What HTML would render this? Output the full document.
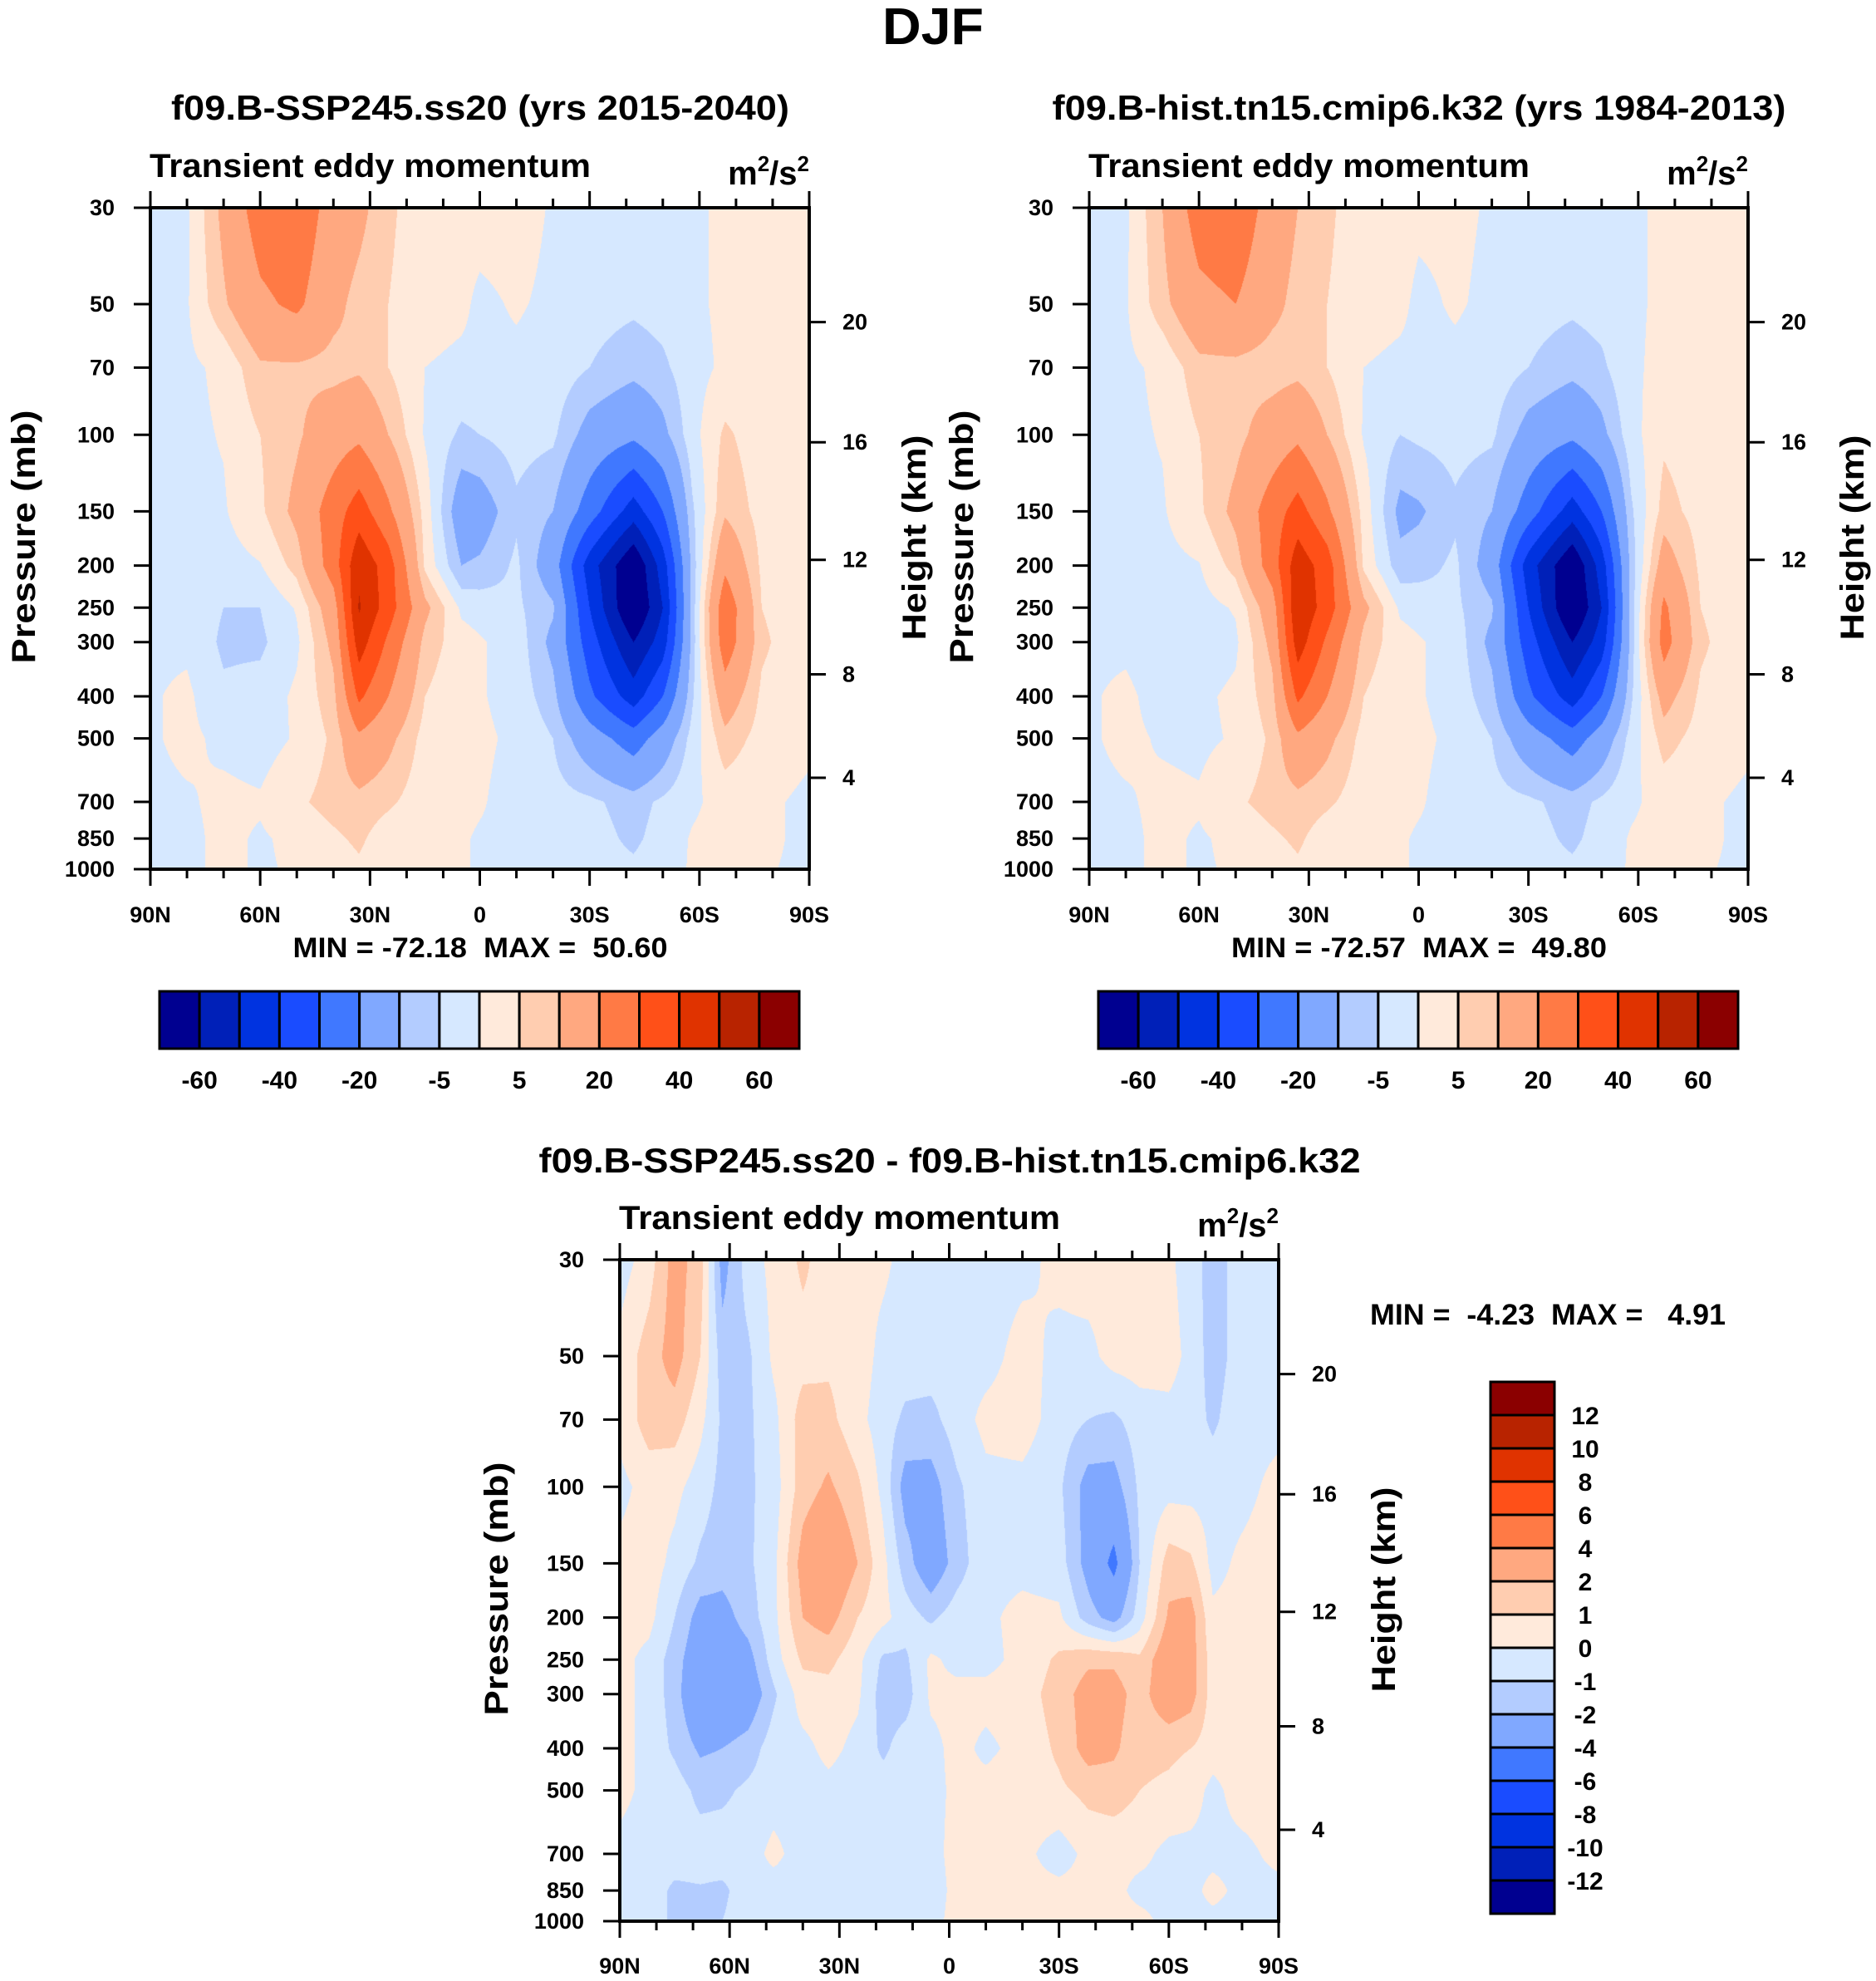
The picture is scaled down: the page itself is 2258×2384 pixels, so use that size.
<!DOCTYPE html>
<html><head><meta charset="utf-8"><style>
html,body{margin:0;padding:0;background:#fff;}
#wrap{position:relative;width:2258px;height:2384px;overflow:hidden;background:#fff;}
canvas{position:absolute;}
svg{position:absolute;left:0;top:0;}
text{font-family:"Liberation Sans",sans-serif;font-weight:bold;fill:#000;}
</style></head><body>
<div id="wrap">
<canvas id="c1"></canvas>
<canvas id="c2"></canvas>
<canvas id="c3"></canvas>
<svg id="svg" width="2258" height="2384"></svg>
</div>
<script>
// ---------- data ----------
const pLevels=[30,50,70,100,150,200,250,300,400,500,700,850,1000];
const absLats=[90,80,70,60,50,40,33,25,15,5,0,-10,-20,-30,-42,-50,-58,-67,-77,-90];
const sspVals=[
[-2,-1,12,25,28,15,12,6,2,2,2,2,-0.5,-2,-2,-2,-1,1,2,2],
[-1,-0.5,9,18,22,12,8,5,2,1,-1,0.5,-1,-3,-4,-3,-1,1,2,2],
[-1,-1,1,9,9,8,9,5,0,-1,-1,-1,-2,-5,-8,-6,-2,1,1.5,1.5],
[-1,-1,0.3,5,9,15,18,10,-0.5,-6,-5,-3,-4,-13,-18,-12,-2,6,2,1],
[-1,-1,-0.5,4,12,25,35,22,3,-15,-14,-6,-10,-25,-45,-30,-6,9,3,1],
[-2,-1,-2,-0.3,7,25,48,35,4,-10,-9,-4,-15,-45,-70,-45,-8,18,4,1],
[-1,-1.5,-5,-5,0.5,15,51,35,12,-1,-2,-4,-9,-40,-72,-50,-8,27,5,1],
[-1,-1,-6,-6,-1,12,45,28,8,2,0.5,-2,-12,-35,-60,-45,-8,26,6,1],
[-0.5,1,-4,-3,1,8,32,20,5,1,0.5,-2,-8,-28,-45,-30,-6,15,4,1],
[-0.5,1,-1,-2,0.5,6,18,12,3,1,1,-1,-5,-15,-25,-15,-3,8,3,1],
[-1,-0.5,1,0.5,4,7,8,6,2,1,0.5,-2,-3,-4,-7,-4,-1,2,1,-1],
[-1,-1,1,-0.5,1,4,6,2,1,0.5,-0.5,-1,-2,-3,-6,-3,0.5,2,1,-1],
[-1,-1,1,-0.5,0.5,2,4,1,0.5,0.5,-0.5,-1,-1,-3,-4,-2,0.5,1,0.5,-1]];
const histVals=[
[-2,-1,10,25,28,15,10,6,2,2,1,1,-0.5,-2,-2,-2,-1,1,2,2],
[-1,-0.5,8,17,20,12,8,5,2,1,-1,0.5,-1,-3,-4,-3,-1,1,2,2],
[-1,-1,1,8,8,7,8,5,0,-1,-1,-1,-2,-5,-8,-6,-1,1.5,1.5,1.5],
[-1,-1,0.3,5,8,14,18,10,-0.5,-5,-4,-3,-4,-13,-18,-12,-2,4,2,1],
[-1,-1,-0.5,4,12,25,34,22,3,-12,-11,-6,-10,-25,-45,-30,-6,7,3,1],
[-2,-1,-1.5,-0.3,7,25,46,35,4,-8,-7,-4,-14,-45,-70,-45,-8,14,4,1],
[-1,-1.5,-2,-2,0.5,15,49,35,12,-1,-2,-4,-9,-40,-72,-50,-8,22,5,1],
[-1,-1,-3,-3,-1,12,45,28,8,2,0.5,-2,-12,-35,-60,-45,-8,24,6,1],
[-0.5,1,-2,-1,1,8,32,20,5,1,0.5,-2,-8,-28,-45,-30,-6,13,4,1],
[-0.5,1,-0.5,-1,0.5,6,18,12,3,1,1,-1,-5,-15,-25,-15,-3,7,3,1],
[-1,-0.5,1,0.5,4,7,8,6,2,1,0.5,-2,-3,-4,-7,-4,-1,2,1,-1],
[-1,-1,1,-0.5,1,4,6,2,1,0.5,-0.5,-1,-2,-3,-6,-3,0.5,2,1,-1],
[-1,-1,1,-0.5,0.5,2,4,1,0.5,0.5,-0.5,-1,-1,-3,-4,-2,0.5,1,0.5,-1]];
const diffLats=[90,82,75,68,62,55,48,40,33,25,18,12,5,-2,-10,-20,-30,-38,-45,-52,-60,-66,-72,-80,-90];
const diffVals=[
[-0.5,0.5,2.5,1.5,-2.5,-0.5,0.3,1.2,0.5,0.3,0.2,-0.3,-0.5,-0.5,-0.5,-0.3,0.3,0.5,0.5,0.5,0.2,-0.5,-1.5,-0.5,-0.3],
[0.3,1.5,2.5,1,-1.5,-1.2,0.2,0.6,0.8,0.5,-0.3,-0.5,-0.5,-0.5,-0.4,0.4,-0.3,-0.3,0.4,0.5,0.4,-0.3,-1.5,-0.5,-0.3],
[0.3,1.5,1.5,0.3,-1.2,-1.2,-0.3,1.5,1.3,0.3,-0.5,-1.2,-1.3,-0.5,0.3,0.5,-0.5,-1,-1.2,-0.5,-0.3,-0.5,-1.2,-0.3,-0.3],
[-0.3,0.4,0.3,-0.5,-1.3,-1.2,-0.5,1.5,2.2,1.2,-0.3,-2.5,-2.5,-1.2,-0.3,-0.3,-0.8,-2.5,-2.5,-0.8,-0.4,-0.4,-0.4,-0.3,0.3],
[0.3,0.5,-0.3,-1.2,-1.5,-1.2,-0.3,2.5,3.5,2,0.3,-1.5,-3,-1.5,-0.3,-0.3,-0.5,-2.5,-4.5,-1,1.5,1.2,-0.3,0.2,0.5],
[0.5,0.3,-1,-2.5,-2.5,-1.5,-0.3,2,2.5,1,0.3,-0.5,-1.2,-0.5,-0.2,0.3,0.2,-1.5,-2.5,-0.5,2.2,2.5,0.2,0.3,0.5],
[0.3,-0.3,-1.5,-3,-3,-2.5,-0.5,1.2,1.3,0.3,-1.2,-1.2,0.2,-0.3,-0.3,0.3,1.2,1.8,1.8,1.2,3,2.5,0.5,0.5,0.5],
[0.3,-0.3,-1.5,-3.5,-3.5,-3,-1.2,0.5,0.6,0.2,-1.5,-1.5,0.2,0.3,0.3,0.5,1.5,2.5,2.5,1.5,3,2.5,0.5,0.5,0.5],
[0.3,-0.3,-1.2,-2.2,-2,-1.5,-0.5,-0.3,0.3,-0.3,-1.2,-0.5,-0.3,0.3,-0.2,0.3,1.2,2.5,2.2,1.3,1.2,1,0.5,0.5,0.5],
[0.3,-0.3,-0.5,-1.3,-1.2,-0.8,-0.5,-0.5,-0.3,-0.5,-0.5,-0.5,-0.3,0.2,0.3,0.5,0.8,1.3,1.5,1,0.8,0.5,-0.3,0.5,0.5],
[-0.3,-0.5,-0.5,-0.5,-0.5,-0.5,0.3,-0.5,-0.5,-0.5,-0.5,-0.5,-0.3,0.3,0.3,0.3,-0.5,0.3,0.3,0.3,-0.3,-0.3,-0.3,-0.3,0.3],
[-0.3,-0.5,-1.2,-1.1,-1.2,-0.5,-0.5,-0.5,-0.5,-0.5,-0.5,-0.5,-0.5,0.3,0.3,0.3,0.3,0.3,0.3,-0.3,-0.3,-0.3,0.3,-0.3,-0.3],
[-0.3,-0.5,-1.2,-1.2,-1,-0.5,-0.5,-0.3,-0.3,-0.5,-0.5,-0.3,-0.3,0.3,0.3,0.3,0.3,0.3,0.3,0.3,-0.3,-0.3,-0.3,-0.3,-0.3]];
const absLevels=[-60,-50,-40,-30,-20,-10,-5,0,5,10,20,30,40,50,60];
const absLabels=["-60","-40","-20","-5","5","20","40","60"];
const diffLevels=[-12,-10,-8,-6,-4,-2,-1,0,1,2,4,6,8,10,12];
const colors=['#000090','#0020b8','#0033e0','#1a4cff','#4078ff','#80a8ff','#b3ccff','#d6e8ff','#ffeadb','#ffcdb0','#ffa880','#ff7a45','#ff5018','#e03300','#b82300','#8b0000'];
const pTicks=[30,50,70,100,150,200,250,300,400,500,700,850,1000];
const hTicks=[4,8,12,16,20];
const hTickP=[616,356,194,104,55];
const latTicks=[90,60,30,0,-30,-60,-90];
const latTickLabels=["90N","60N","30N","0","30S","60S","90S"];

// ---------- helpers ----------
const NS='http://www.w3.org/2000/svg';
const svg=document.getElementById('svg');
function el(tag,attrs,parent){const e=document.createElementNS(NS,tag);for(const k in attrs)e.setAttribute(k,attrs[k]);(parent||svg).appendChild(e);return e;}
function txt(s,x,y,size,anchor,extra){const t=el('text',Object.assign({x:x,y:y,'font-size':size,'text-anchor':anchor||'start'},extra||{}));t.textContent=s;return t;}

function makeAxes(left,top,W,H){
  const lnTop=Math.log(30),lnR=Math.log(1000/30);
  return {x:lat=>left+(90-lat)/180*W, y:p=>top+(Math.log(p)-lnTop)/lnR*H};
}
function levelIndex(v,levels){let k=0;while(k<levels.length&&v>=levels[k])k++;return k;}
function hex(c){return [parseInt(c.substr(1,2),16),parseInt(c.substr(3,2),16),parseInt(c.substr(5,2),16)];}
const rgb=colors.map(hex);

function fillCanvas(id,left,top,W,H,lats,vals,levels){
  const cv=document.getElementById(id);
  cv.width=W;cv.height=H;cv.style.left=left+'px';cv.style.top=top+'px';
  const ctx=cv.getContext('2d');const img=ctx.createImageData(W,H);
  const lnP=pLevels.map(Math.log);const lnTop=Math.log(30),lnR=Math.log(1000/30);
  const colI=[],colF=[];
  for(let px=0;px<W;px++){const lat=90-(px+0.5)/W*180;let i=0;while(i<lats.length-2&&lat<lats[i+1])i++;colI.push(i);colF.push((lats[i]-lat)/(lats[i]-lats[i+1]));}
  for(let py=0;py<H;py++){
    const lp=lnTop+(py+0.5)/H*lnR;let j=0;while(j<lnP.length-2&&lp>lnP[j+1])j++;
    const fy=(lp-lnP[j])/(lnP[j+1]-lnP[j]);
    const r0=vals[j],r1=vals[j+1];
    for(let px=0;px<W;px++){
      const i=colI[px],fx=colF[px];
      const v=(r0[i]*(1-fx)+r0[i+1]*fx)*(1-fy)+(r1[i]*(1-fx)+r1[i+1]*fx)*fy;
      const c=rgb[levelIndex(v,levels)];const o=(py*W+px)*4;
      img.data[o]=c[0];img.data[o+1]=c[1];img.data[o+2]=c[2];img.data[o+3]=255;
    }
  }
  ctx.putImageData(img,0,0);
}

function drawFrame(left,top,W,H,cfg){
  const ax=makeAxes(left,top,W,H);
  const g=el('g',{});
  
  
  const fr=el('rect',{x:left,y:top,width:W,height:H,fill:'none',stroke:'#000','stroke-width':4},g);
  
  
  for(let lat=90;lat>=-90;lat-=10){
    const x=ax.x(lat);const major=(lat%30===0);const L=major?20:11;
    const t1=el('line',{x1:x,y1:top+H,x2:x,y2:top+H+L,stroke:'#000','stroke-width':3},g);
    
    
    const t2=el('line',{x1:x,y1:top,x2:x,y2:top-L,stroke:'#000','stroke-width':3},g);
    
    
  }
  latTicks.forEach((lat,k)=>{
    const t=txt(latTickLabels[k],ax.x(lat),cfg.xLabelY,cfg.tickFont,'middle');
    
    
  });
  pTicks.forEach(p=>{
    const y=ax.y(p);
    const l=el('line',{x1:left-20,y1:y,x2:left,y2:y,stroke:'#000','stroke-width':3},g);
    
    
    const t=txt(String(p),left-43,y+9,cfg.tickFont,'end');
    
    
  });
  hTicks.forEach((h,k)=>{
    const y=ax.y(hTickP[k]);
    const l=el('line',{x1:left+W,y1:y,x2:left+W+20,y2:y,stroke:'#000','stroke-width':3},g);
    
    
    const t=txt(String(h),left+W+40,y+9,cfg.tickFont,'start');
    
    
  });
  const cy=top+H/2;
  const yt=txt('Pressure (mb)',0,0,40,'middle',{transform:`translate(${cfg.pX},${cy-2}) rotate(-90)`,textLength:305,lengthAdjust:'spacingAndGlyphs'});
  
  
  const ht=txt('Height (km)',0,0,40,'middle',{transform:`translate(${cfg.hX},${cy-1}) rotate(-90)`,textLength:247,lengthAdjust:'spacingAndGlyphs'});
  
  
  const tr=txt('Transient eddy momentum',left-1,cfg.subY,40,'start',{textLength:531,lengthAdjust:'spacingAndGlyphs'});
  
  
  const u=el('text',{x:left+W,y:cfg.subY+9,'font-size':40,'text-anchor':'end'});
  
  
  u.innerHTML='m<tspan dy="-16" font-size="26">2</tspan><tspan dy="16">/s</tspan><tspan dy="-16" font-size="26">2</tspan>';
}

function hColorbar(x0,y0,w,h,levels,labels,name){
  const bw=w/16;
  for(let k=0;k<16;k++){
    const r=el('rect',{x:x0+k*bw,y:y0,width:bw,height:h,fill:colors[k],stroke:'#000','stroke-width':3});
    
    
  }
  for(let k=0;k<levels.length;k+=2){
    const t=txt(labels[k/2],x0+(k+1)*bw,y0+h+48,30,'middle');
    
    
  }
}
function vColorbar(x0,y0,w,h,levels,name){
  const bh=h/16;
  for(let k=0;k<16;k++){
    const r=el('rect',{x:x0,y:y0+k*bh,width:w,height:bh,fill:colors[15-k],stroke:'#000','stroke-width':3});
    
    
  }
  for(let k=1;k<=15;k++){
    const t=txt(String(levels[15-k]),1908,y0+k*bh+11,30,'middle');
    
    
  }
}

// ---------- panels ----------
const PW=793,PH=796;
fillCanvas('c1',181,250,PW,PH,absLats,sspVals,absLevels);
fillCanvas('c2',1311,250,PW,PH,absLats,histVals,absLevels);
fillCanvas('c3',746,1516,PW,PH,diffLats,diffVals,diffLevels);

const title=txt('DJF',1123,53,62,'middle',{textLength:122,lengthAdjust:'spacingAndGlyphs'});



const t1=txt('f09.B-SSP245.ss20 (yrs 2015-2040)',578,144,42,'middle',{textLength:744,lengthAdjust:'spacingAndGlyphs'});


const t2=txt('f09.B-hist.tn15.cmip6.k32 (yrs 1984-2013)',1708,144,42,'middle',{textLength:883,lengthAdjust:'spacingAndGlyphs'});


const t3=txt('f09.B-SSP245.ss20 - f09.B-hist.tn15.cmip6.k32',1143,1411,42,'middle',{textLength:989,lengthAdjust:'spacingAndGlyphs'});



drawFrame(181,250,PW,PH,{name:'ssp',xLabelY:1110,tickFont:27,pX:42,hX:1114,subY:213});
drawFrame(1311,250,PW,PH,{name:'hist',xLabelY:1110,tickFont:27,pX:1171,hX:2243,subY:213});
drawFrame(746,1516,PW,PH,{name:'diff',xLabelY:2375,tickFont:27,pX:611,hX:1679,subY:1479});

const m1=txt('MIN = -72.18\u00a0\u00a0MAX =\u00a0\u00a050.60',578,1152,34,'middle',{textLength:451,lengthAdjust:'spacingAndGlyphs'});


const m2=txt('MIN = -72.57\u00a0\u00a0MAX =\u00a0\u00a049.80',1708,1152,34,'middle',{textLength:452,lengthAdjust:'spacingAndGlyphs'});


const m3=txt('MIN =\u00a0\u00a0-4.23\u00a0\u00a0MAX =\u00a0\u00a0\u00a04.91',1649,1594,35,'start',{textLength:428,lengthAdjust:'spacingAndGlyphs'});



hColorbar(192,1193,770,69,absLevels,absLabels,'ssp-colorbar');
hColorbar(1322,1193,770,69,absLevels,absLabels,'hist-colorbar');
vColorbar(1794,1663,77,640,diffLevels,'diff-colorbar');
</script>
</body></html>
